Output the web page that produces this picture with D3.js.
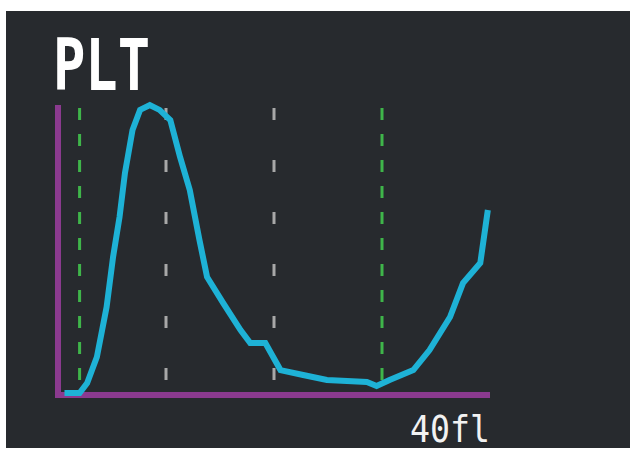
<!DOCTYPE html>
<html lang="en">
<head>
    <meta charset="UTF-8">
    <script type="text/javascript" src="https://d3js.org/d3.v7.min.js"></script>
    <title>PLT</title>
    <style>
        body { margin: 0; background: #ffffff; }
    </style>
</head>
<body>
    <svg id="plot"></svg>

    <script type="text/javascript">
    // platelet volume (fl) and relative count
    const volumes = [0.6, 2.0, 2.7, 3.6, 4.5, 5.1, 5.7, 6.2, 6.9, 7.6, 8.5, 9.4, 10.4, 11.3, 12.2, 13.1, 13.8,
                     15.3, 16.9, 17.8, 19.2, 20.6, 22.7, 24.9, 28.6, 29.5, 30.7, 32.9, 34.4, 36.3, 37.5, 39.1, 39.8];
    const counts  = [0.7, 0.7, 4.1, 13.1, 30.3, 47.6, 61.4, 76.6, 91.4, 98.3, 100, 98.3, 94.8, 82.1, 70.7, 53.4, 40.7,
                     31.7, 22.4, 17.9, 17.9, 8.6, 6.9, 5.2, 4.5, 3.1, 5.2, 8.6, 15.5, 26.9, 38.6, 45.5, 63.8];
    const thresholds = [2, 30];   // green discriminator lines
    const gridLines = [10, 20];   // grey guide lines
    const title = "PLT";
    const unitLabel = "40fl";

    const width = 630;
    const height = 450;
    const svg = d3.select("#plot").attr("width", width).attr("height", height);

    // screen background (photo has a thin white border top/left)
    svg.append("rect").attr("x", 6).attr("y", 11).attr("width", width - 6).attr("height", height - 13)
        .attr("fill", "#272a2e");

    const x = d3.scaleLinear().domain([0, 40]).range([58, 490]);
    const y = d3.scaleLinear().domain([0, 100]).range([395, 105]);

    // grey dashed guides
    svg.append("g").selectAll("line").data(gridLines).enter().append("line")
        .attr("x1", d => x(d)).attr("x2", d => x(d))
        .attr("y1", 108).attr("y2", y(0) - 8)
        .attr("stroke", "#a8a8a8").attr("stroke-width", 3)
        .attr("stroke-dasharray", "12 40");

    // green dashed thresholds
    svg.append("g").selectAll("line").data(thresholds).enter().append("line")
        .attr("x1", d => x(d)).attr("x2", d => x(d))
        .attr("y1", 108).attr("y2", y(0) - 4)
        .attr("stroke", "#3fb54a").attr("stroke-width", 3)
        .attr("stroke-dasharray", "12 14");

    // axes
    svg.append("line").attr("x1", x(0)).attr("x2", x(0)).attr("y1", y(0) + 3).attr("y2", 105)
        .attr("stroke", "#8b3a8f").attr("stroke-width", 6);
    svg.append("line").attr("x1", x(0) - 3).attr("x2", x(40)).attr("y1", y(0)).attr("y2", y(0))
        .attr("stroke", "#8b3a8f").attr("stroke-width", 6);

    const pts = volumes.map((v, i) => [v, counts[i]]);
    const line = d3.line()
        .x(d => x(d[0]))
        .y(d => y(d[1]));
    svg.append("path").attr("d", line(pts))
        .attr("fill", "none").attr("stroke", "#1eb2d6").attr("stroke-width", 6)
        .attr("stroke-linejoin", "miter").attr("stroke-linecap", "butt");

    svg.append("text").attr("x", 53).attr("y", 90)
        .attr("font-family", "DejaVu Sans Mono").attr("font-weight", "bold").attr("font-size", 72)
        .attr("textLength", 97).attr("lengthAdjust", "spacingAndGlyphs")
        .attr("fill", "#ffffff").text(title);

    svg.append("text").attr("x", 410).attr("y", 442)
        .attr("font-family", "DejaVu Sans Mono").attr("font-size", 38)
        .attr("textLength", 80).attr("lengthAdjust", "spacingAndGlyphs")
        .attr("fill", "#f2f2f2").text(unitLabel);
    </script>
</body>
</html>
